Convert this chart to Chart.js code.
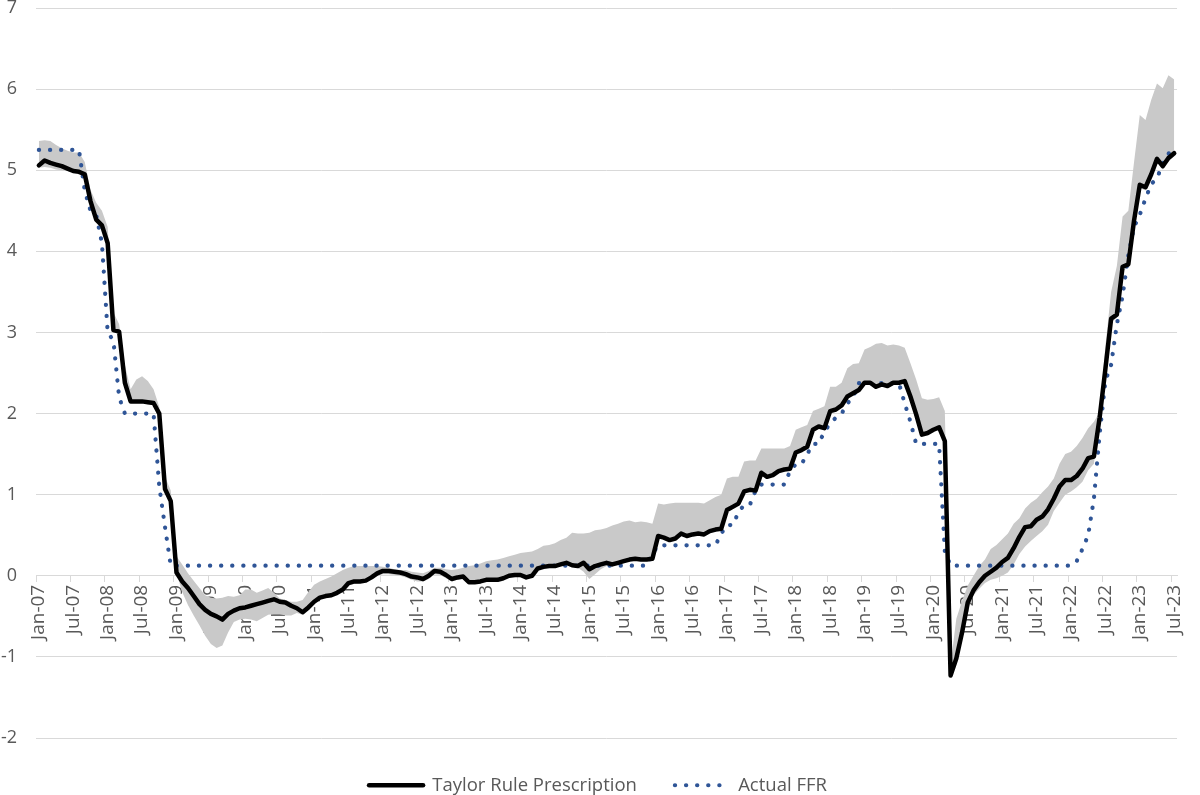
<!DOCTYPE html>
<html>
<head>
<meta charset="utf-8">
<script src="https://cdn.jsdelivr.net/npm/chart.js@4.4.1/dist/chart.umd.min.js"></script>
<style>
  html, body { margin: 0; padding: 0; background: #ffffff; }
  #wrap { position: relative; width: 1200px; height: 795px; }
</style>
</head>
<body>
<div id="wrap"><canvas id="chart"></canvas></div>
<script>
// ---------- categories (monthly, Jan-07 .. Jul-23) ----------
const months = [
  "Jan-07","Feb-07","Mar-07","Apr-07","May-07","Jun-07","Jul-07","Aug-07","Sep-07","Oct-07","Nov-07","Dec-07",
  "Jan-08","Feb-08","Mar-08","Apr-08","May-08","Jun-08","Jul-08","Aug-08","Sep-08","Oct-08","Nov-08","Dec-08",
  "Jan-09","Feb-09","Mar-09","Apr-09","May-09","Jun-09","Jul-09","Aug-09","Sep-09","Oct-09","Nov-09","Dec-09",
  "Jan-10","Feb-10","Mar-10","Apr-10","May-10","Jun-10","Jul-10","Aug-10","Sep-10","Oct-10","Nov-10","Dec-10",
  "Jan-11","Feb-11","Mar-11","Apr-11","May-11","Jun-11","Jul-11","Aug-11","Sep-11","Oct-11","Nov-11","Dec-11",
  "Jan-12","Feb-12","Mar-12","Apr-12","May-12","Jun-12","Jul-12","Aug-12","Sep-12","Oct-12","Nov-12","Dec-12",
  "Jan-13","Feb-13","Mar-13","Apr-13","May-13","Jun-13","Jul-13","Aug-13","Sep-13","Oct-13","Nov-13","Dec-13",
  "Jan-14","Feb-14","Mar-14","Apr-14","May-14","Jun-14","Jul-14","Aug-14","Sep-14","Oct-14","Nov-14","Dec-14",
  "Jan-15","Feb-15","Mar-15","Apr-15","May-15","Jun-15","Jul-15","Aug-15","Sep-15","Oct-15","Nov-15","Dec-15",
  "Jan-16","Feb-16","Mar-16","Apr-16","May-16","Jun-16","Jul-16","Aug-16","Sep-16","Oct-16","Nov-16","Dec-16",
  "Jan-17","Feb-17","Mar-17","Apr-17","May-17","Jun-17","Jul-17","Aug-17","Sep-17","Oct-17","Nov-17","Dec-17",
  "Jan-18","Feb-18","Mar-18","Apr-18","May-18","Jun-18","Jul-18","Aug-18","Sep-18","Oct-18","Nov-18","Dec-18",
  "Jan-19","Feb-19","Mar-19","Apr-19","May-19","Jun-19","Jul-19","Aug-19","Sep-19","Oct-19","Nov-19","Dec-19",
  "Jan-20","Feb-20","Mar-20","Apr-20","May-20","Jun-20","Jul-20","Aug-20","Sep-20","Oct-20","Nov-20","Dec-20",
  "Jan-21","Feb-21","Mar-21","Apr-21","May-21","Jun-21","Jul-21","Aug-21","Sep-21","Oct-21","Nov-21","Dec-21",
  "Jan-22","Feb-22","Mar-22","Apr-22","May-22","Jun-22","Jul-22","Aug-22","Sep-22","Oct-22","Nov-22","Dec-22",
  "Jan-23","Feb-23","Mar-23","Apr-23","May-23","Jun-23","Jul-23"
];

// ---------- Taylor rule prescription ----------
const taylorRule = [
  5.06, 5.12, 5.09, 5.07, 5.05, 5.02, 4.99, 4.98, 4.95, 4.62, 4.39, 4.32,
  4.10, 3.03, 3.01, 2.38, 2.15, 2.15, 2.15, 2.14, 2.13, 2.00, 1.07, 0.92,
  0.04, -0.07, -0.15, -0.25, -0.35, -0.42, -0.47, -0.50, -0.54, -0.47, -0.43, -0.40,
  -0.39, -0.37, -0.35, -0.33, -0.31, -0.29, -0.32, -0.33, -0.37, -0.40, -0.45, -0.39,
  -0.32, -0.27, -0.25, -0.24, -0.21, -0.17, -0.09, -0.07, -0.07, -0.06, -0.02, 0.03,
  0.06, 0.06, 0.05, 0.04, 0.02, -0.01, -0.02, -0.04, 0.00, 0.06, 0.05, 0.01,
  -0.04, -0.02, -0.01, -0.08, -0.08, -0.07, -0.05, -0.05, -0.05, -0.03, 0.00, 0.01,
  0.01, -0.02, 0.00, 0.09, 0.11, 0.12, 0.12, 0.14, 0.16, 0.13, 0.12, 0.16,
  0.08, 0.12, 0.14, 0.16, 0.14, 0.16, 0.18, 0.20, 0.21, 0.20, 0.20, 0.21,
  0.49, 0.47, 0.44, 0.46, 0.52, 0.49, 0.51, 0.52, 0.51, 0.55, 0.57, 0.58,
  0.81, 0.85, 0.89, 1.04, 1.06, 1.05, 1.27, 1.22, 1.24, 1.29, 1.31, 1.32,
  1.52, 1.55, 1.59, 1.80, 1.84, 1.82, 2.03, 2.05, 2.10, 2.21, 2.25, 2.29,
  2.38, 2.38, 2.33, 2.36, 2.34, 2.38, 2.38, 2.40, 2.21, 1.99, 1.74, 1.76,
  1.80, 1.83, 1.66, -1.23, -1.02, -0.70, -0.33, -0.18, -0.08, 0.00, 0.05, 0.10,
  0.17, 0.22, 0.34, 0.48, 0.60, 0.61, 0.69, 0.73, 0.82, 0.95, 1.10, 1.18,
  1.18, 1.23, 1.32, 1.45, 1.47, 1.95, 2.55, 3.17, 3.22, 3.81, 3.84, 4.38,
  4.82, 4.79, 4.95, 5.14, 5.05, 5.15, 5.21
];

// ---------- range of prescriptions (grey band) ----------
const bandUpper = [
  5.36, 5.37, 5.36, 5.31, 5.27, 5.24, 5.22, 5.22, 5.10, 4.76, 4.60, 4.50,
  4.30, 3.25, 3.10, 2.60, 2.30, 2.42, 2.46, 2.40, 2.30, 2.08, 1.22, 1.05,
  0.24, 0.14, 0.03, -0.06, -0.15, -0.24, -0.27, -0.28, -0.27, -0.25, -0.26, -0.24,
  -0.17, -0.17, -0.21, -0.18, -0.15, -0.21, -0.28, -0.30, -0.32, -0.32, -0.30, -0.20,
  -0.11, -0.07, -0.04, -0.01, 0.03, 0.07, 0.10, 0.12, 0.12, 0.12, 0.12, 0.12,
  0.11, 0.10, 0.08, 0.07, 0.07, 0.05, 0.04, 0.03, 0.06, 0.10, 0.10, 0.08,
  0.07, 0.08, 0.10, 0.12, 0.13, 0.15, 0.18, 0.19, 0.20, 0.22, 0.24, 0.26,
  0.28, 0.29, 0.30, 0.33, 0.37, 0.38, 0.40, 0.44, 0.47, 0.53, 0.52, 0.52,
  0.53, 0.56, 0.57, 0.59, 0.62, 0.64, 0.67, 0.68, 0.66, 0.67, 0.66, 0.64,
  0.89, 0.88, 0.89, 0.90, 0.90, 0.90, 0.90, 0.90, 0.89, 0.93, 0.97, 1.00,
  1.20, 1.22, 1.22, 1.41, 1.42, 1.42, 1.57, 1.57, 1.57, 1.57, 1.57, 1.60,
  1.80, 1.83, 1.86, 2.03, 2.06, 2.09, 2.33, 2.33, 2.38, 2.56, 2.61, 2.62,
  2.79, 2.82, 2.86, 2.87, 2.84, 2.85, 2.84, 2.81, 2.62, 2.42, 2.19, 2.17,
  2.18, 2.20, 2.03, -1.10, -0.53, -0.31, -0.12, 0.00, 0.12, 0.20, 0.33, 0.38,
  0.45, 0.52, 0.64, 0.71, 0.83, 0.90, 0.95, 1.03, 1.10, 1.20, 1.38, 1.50,
  1.53, 1.60, 1.70, 1.82, 1.90, 2.02, 2.83, 3.50, 3.82, 4.43, 4.50, 5.10,
  5.68, 5.62, 5.87, 6.07, 6.01, 6.17, 6.12
];
const bandLower = [
  5.03, 5.04, 5.03, 5.01, 5.00, 4.99, 4.97, 4.96, 4.93, 4.60, 4.37, 4.30,
  4.08, 3.01, 2.99, 2.36, 2.13, 2.13, 2.13, 2.12, 2.11, 1.98, 1.05, 0.90,
  0.03, -0.20, -0.36, -0.49, -0.61, -0.74, -0.84, -0.89, -0.86, -0.70, -0.57, -0.54,
  -0.53, -0.54, -0.56, -0.52, -0.48, -0.47, -0.47, -0.49, -0.49, -0.46, -0.48, -0.40,
  -0.33, -0.29, -0.26, -0.24, -0.21, -0.18, -0.12, -0.10, -0.09, -0.07, -0.04, 0.00,
  0.02, 0.02, 0.01, 0.00, -0.02, -0.05, -0.07, -0.07, -0.04, 0.02, 0.01, -0.03,
  -0.07, -0.05, -0.04, -0.10, -0.10, -0.09, -0.07, -0.07, -0.07, -0.05, -0.02, -0.01,
  -0.01, -0.04, -0.02, 0.07, 0.09, 0.10, 0.10, 0.12, 0.14, 0.11, 0.10, 0.05,
  -0.04, 0.02, 0.08, 0.12, 0.12, 0.14, 0.16, 0.18, 0.19, 0.18, 0.18, 0.19,
  0.47, 0.45, 0.42, 0.44, 0.50, 0.47, 0.49, 0.50, 0.49, 0.53, 0.55, 0.56,
  0.79, 0.83, 0.87, 1.02, 1.04, 1.03, 1.25, 1.20, 1.22, 1.27, 1.29, 1.30,
  1.50, 1.53, 1.57, 1.78, 1.82, 1.80, 2.01, 2.03, 2.08, 2.19, 2.23, 2.27,
  2.36, 2.36, 2.31, 2.34, 2.32, 2.36, 2.36, 2.38, 2.19, 1.97, 1.72, 1.74,
  1.78, 1.81, 1.64, -1.25, -1.10, -0.78, -0.41, -0.24, -0.16, -0.09, -0.05, -0.03,
  0.00, 0.04, 0.14, 0.27, 0.36, 0.43, 0.49, 0.55, 0.63, 0.80, 0.90, 1.00,
  1.04, 1.09, 1.16, 1.30, 1.38, 1.90, 2.50, 3.12, 3.18, 3.76, 3.80, 4.33,
  4.78, 4.75, 4.91, 5.10, 5.01, 5.11, 5.17
];

// ---------- actual federal funds rate ----------
const actualFFR = [
  5.25, 5.25, 5.25, 5.25, 5.25, 5.25, 5.25, 5.25, 4.75, 4.50, 4.45, 4.10,
  3.00, 2.90, 2.20, 2.00, 2.00, 2.00, 2.00, 2.00, 2.00, 1.10, 0.60, 0.125,
  0.125, 0.125, 0.125, 0.125, 0.125, 0.125, 0.125, 0.125, 0.125, 0.125, 0.125, 0.125,
  0.125, 0.125, 0.125, 0.125, 0.125, 0.125, 0.125, 0.125, 0.125, 0.125, 0.125, 0.125,
  0.125, 0.125, 0.125, 0.125, 0.125, 0.125, 0.125, 0.125, 0.125, 0.125, 0.125, 0.125,
  0.125, 0.125, 0.125, 0.125, 0.125, 0.125, 0.125, 0.125, 0.125, 0.125, 0.125, 0.125,
  0.125, 0.125, 0.125, 0.125, 0.125, 0.125, 0.125, 0.125, 0.125, 0.125, 0.125, 0.125,
  0.125, 0.125, 0.125, 0.125, 0.125, 0.125, 0.125, 0.125, 0.125, 0.125, 0.125, 0.125,
  0.125, 0.125, 0.125, 0.125, 0.125, 0.125, 0.125, 0.125, 0.125, 0.125, 0.125, 0.27,
  0.375, 0.375, 0.375, 0.375, 0.375, 0.375, 0.375, 0.375, 0.375, 0.375, 0.375, 0.52,
  0.625, 0.625, 0.78, 0.875, 0.875, 1.05, 1.125, 1.125, 1.125, 1.125, 1.125, 1.29,
  1.375, 1.375, 1.50, 1.625, 1.625, 1.78, 1.875, 1.95, 2.00, 2.125, 2.20, 2.375,
  2.375, 2.375, 2.375, 2.375, 2.375, 2.375, 2.375, 2.125, 1.90, 1.625, 1.625, 1.625,
  1.625, 1.625, 0.30, 0.125, 0.125, 0.125, 0.125, 0.125, 0.125, 0.125, 0.125, 0.125,
  0.125, 0.125, 0.125, 0.125, 0.125, 0.125, 0.125, 0.125, 0.125, 0.125, 0.125, 0.125,
  0.125, 0.18, 0.33, 0.50, 0.95, 1.75, 2.40, 2.60, 3.10, 3.45, 3.95, 4.30,
  4.45, 4.65, 4.83, 4.90, 5.08, 5.20, 5.32
];

// ---------- axis settings ----------
const yMin = -2;
const yMax = 7;
const yStep = 1;
const labelEvery = 6;
const seriesNames = ["Taylor Rule Prescription", "Actual FFR"];

const FONT = "'Open Sans', 'Noto Sans', sans-serif";
const TEXT = '#595959';
const GRID = '#d9d9d9';

Chart.defaults.font.family = FONT;
Chart.defaults.color = TEXT;

new Chart(document.getElementById('chart'), {
  type: 'line',
  data: {
    labels: months,
    datasets: [
      {
        label: seriesNames[0],
        data: taylorRule,
        borderColor: '#000000',
        backgroundColor: '#000000',
        borderWidth: 4.5,
        borderCapStyle: 'round',
        borderJoinStyle: 'round',
        pointRadius: 0,
        pointHoverRadius: 0,
        pointStyle: 'line',
        tension: 0,
        fill: false
      },
      {
        label: seriesNames[1],
        data: actualFFR,
        borderColor: '#2F5597',
        backgroundColor: '#2F5597',
        borderWidth: 4.2,
        borderDash: [0.2, 10.9],
        borderCapStyle: 'round',
        borderJoinStyle: 'round',
        pointRadius: 0,
        pointHoverRadius: 0,
        pointStyle: 'line',
        tension: 0,
        fill: false
      },
      {
        label: 'band-low',
        data: bandLower,
        borderColor: 'rgba(0,0,0,0)',
        backgroundColor: 'rgba(0,0,0,0)',
        borderWidth: 0,
        pointRadius: 0,
        pointHoverRadius: 0,
        tension: 0,
        fill: false
      },
      {
        label: 'band-high',
        data: bandUpper,
        borderColor: 'rgba(0,0,0,0)',
        backgroundColor: '#c9c9c9',
        borderWidth: 0,
        pointRadius: 0,
        pointHoverRadius: 0,
        tension: 0,
        fill: '-1'
      }
    ]
  },
  options: {
    responsive: true,
    maintainAspectRatio: false,
    animation: false,
    events: [],
    layout: { padding: { left: 0, right: 4, top: 0, bottom: 0 } },
    scales: {
      x: {
        type: 'category',
        offset: true,
        position: { y: 0 },
        afterFit: (scale) => { scale.height = 0; },
        grid: {
          offset: true,
          drawOnChartArea: false,
          drawTicks: true,
          tickLength: 6,
          lineWidth: 1,
          color: (ctx) => (ctx.index !== undefined && ctx.index % labelEvery === 0) ? GRID : 'rgba(0,0,0,0)'
        },
        border: { display: true, color: GRID, width: 1 },
        ticks: {
          autoSkip: false,
          minRotation: 90,
          maxRotation: 90,
          padding: 3,
          color: TEXT,
          font: { size: 19, family: FONT },
          callback: function (value, index) {
            return index % labelEvery === 0 ? months[index] : '';
          }
        }
      },
      y: {
        min: yMin,
        max: yMax,
        afterFit: (scale) => {
          scale.width = 36;
          scale.paddingTop = 8;
          scale.paddingBottom = 8;
        },
        grid: { color: GRID, lineWidth: 1, drawTicks: false },
        border: { display: false },
        ticks: {
          stepSize: yStep,
          padding: 19,
          color: TEXT,
          font: { size: 18, family: FONT, lineHeight: 0.9 }
        }
      }
    },
    plugins: {
      filler: { propagate: false },
      tooltip: { enabled: false },
      legend: {
        display: true,
        position: 'bottom',
        maxHeight: 57,
        labels: {
          usePointStyle: true,
          pointStyleWidth: 54,
          padding: 38,
          color: TEXT,
          font: { size: 18.5, family: FONT },
          generateLabels: (chart) => {
            const items = Chart.defaults.plugins.legend.labels.generateLabels(chart);
            items.forEach((it) => {
              const ds = chart.data.datasets[it.datasetIndex];
              it.pointStyle = 'line';
              it.lineDash = ds.borderDash || [];
              it.lineCap = ds.borderCapStyle || 'butt';
              it.lineWidth = ds.borderWidth;
              it.strokeStyle = ds.borderColor;
              it.fillStyle = ds.borderColor;
            });
            return items;
          },
          filter: (item) => item.datasetIndex < 2
        }
      }
    }
  }
});
</script>
</body>
</html>
